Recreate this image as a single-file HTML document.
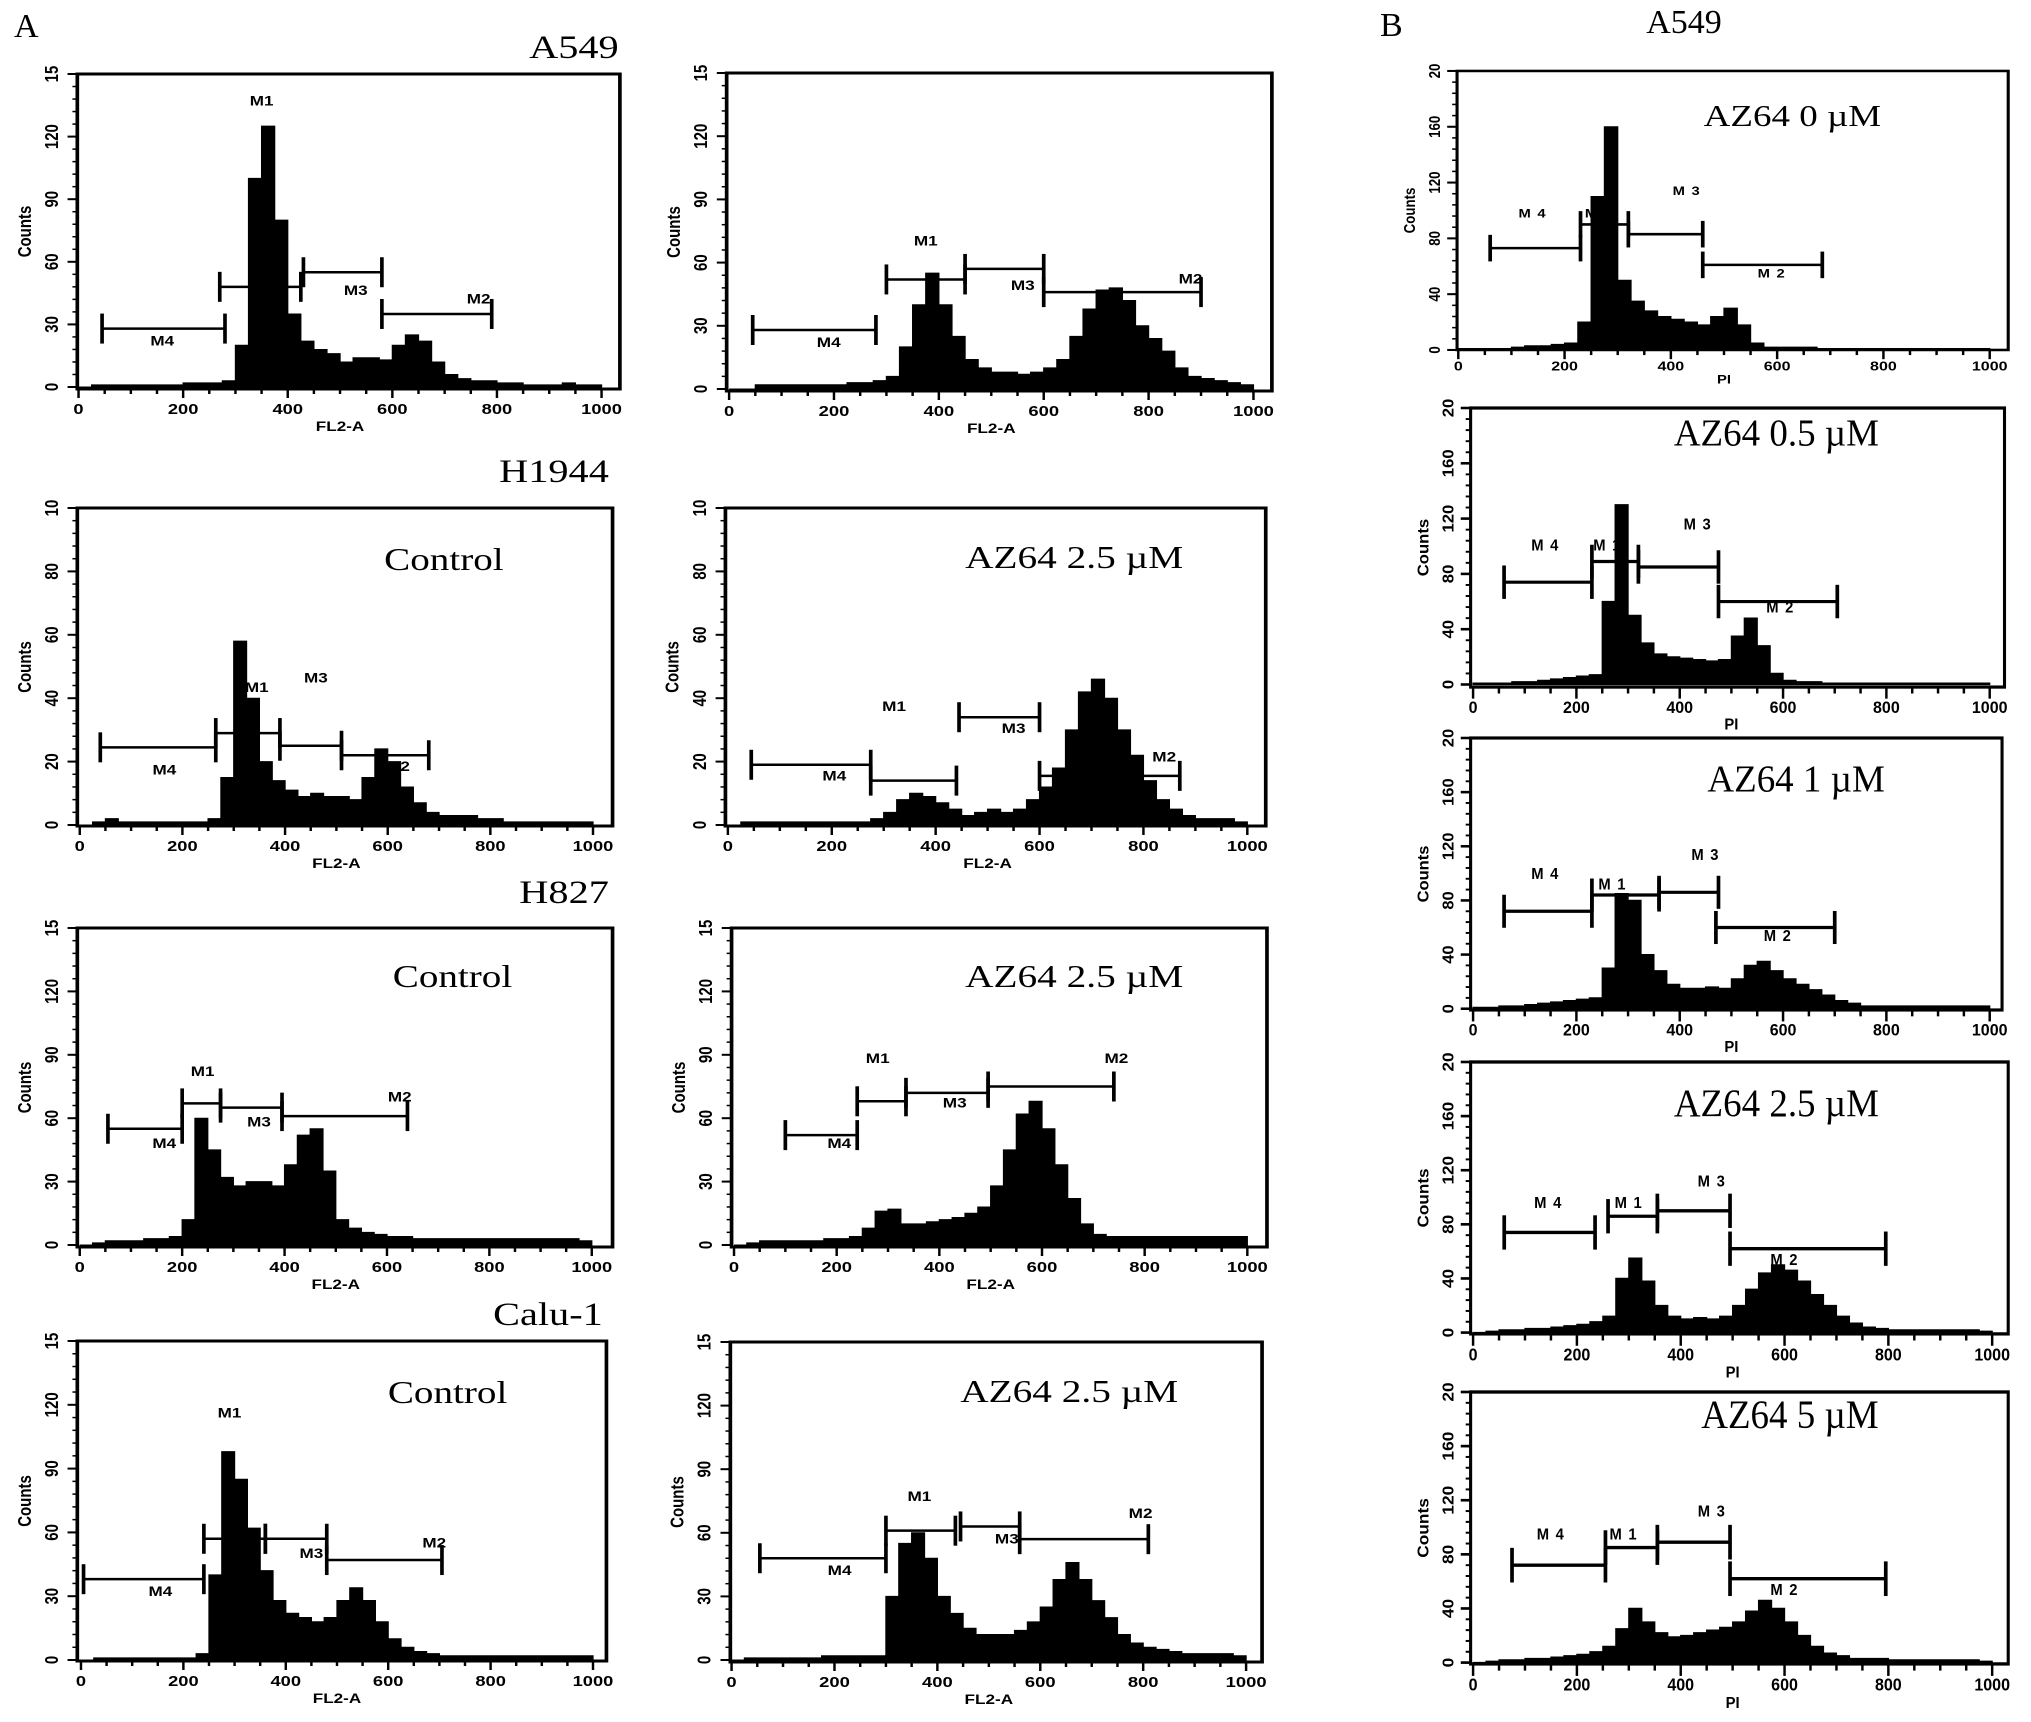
<!DOCTYPE html>
<html><head><meta charset="utf-8"><style>
html,body{margin:0;padding:0;background:#fff;}
svg{display:block;}
</style></head><body>
<svg id="fig" xmlns="http://www.w3.org/2000/svg" width="2031" height="1722" viewBox="0 0 2031 1722">
<rect x="0" y="0" width="2031" height="1722" fill="#fff"/>
<text x="14" y="37" font-family="Liberation Serif, serif" font-size="34">A</text>
<text x="1380" y="36" font-family="Liberation Serif, serif" font-size="34">B</text>
<text x="1684" y="33" text-anchor="middle" font-family="Liberation Serif, serif" font-size="34">A549</text>
</svg>
<script>
// bin width 25 on 0..1000 scale, 40 bins each
const binWidth = 25;
const a549CtrlCounts = [0,1,1,1,1,1,1,1,2,2,2,3,20,100,125,80,35,22,18,16,12,14,14,13,20,25,22,12,6,4,3,3,2,2,1,1,1,2,1,1];
const a549AzCounts = [0,0,2,2,2,2,2,2,2,3,3,4,6,20,40,55,40,25,14,10,8,8,7,8,10,14,25,38,47,48,42,30,24,18,10,6,5,4,3,2];
const h1944CtrlCounts = [0,1,2,1,1,1,1,1,1,1,2,15,58,40,20,14,11,9,10,9,9,8,15,24,20,12,7,4,3,3,3,2,2,1,1,1,1,1,1,1];
const h1944AzCounts = [0,1,1,1,1,1,1,1,1,1,1,2,4,8,10,9,7,5,3,4,5,4,5,8,12,18,30,42,46,40,30,22,14,8,5,3,2,2,2,1];
const h827CtrlCounts = [0,1,2,2,2,3,3,4,12,60,45,32,28,30,30,28,38,52,55,35,12,8,6,5,4,4,3,3,3,3,3,3,3,3,3,3,3,3,3,2];
const h827AzCounts = [0,1,2,2,2,2,2,3,3,4,8,16,17,10,10,11,12,13,15,18,28,45,62,68,55,38,22,10,5,4,4,4,4,4,4,4,4,4,4,4];
const calu1CtrlCounts = [0,1,1,1,1,1,1,1,1,3,40,98,85,62,42,28,22,20,18,20,28,34,28,18,10,6,4,3,2,2,2,2,2,2,2,2,2,2,2,2];
const calu1AzCounts = [0,1,1,1,1,1,1,2,2,2,2,2,30,55,60,48,30,22,15,12,12,12,14,18,25,38,46,38,28,20,12,8,6,5,4,3,3,3,3,2];
const b0Counts = [1,1,1,1,2,3,3,4,5,20,110,160,50,35,28,24,22,20,18,24,30,18,5,2,2,2,2,1,1,1,1,1,1,1,1,1,1,1,1,1];
const b05Counts = [1,1,1,2,2,3,4,5,6,7,60,130,50,30,22,20,19,18,17,18,35,48,28,8,3,2,2,1,1,1,1,1,1,1,1,1,1,1,1,1];
const b1Counts = [1,1,2,2,3,4,5,6,7,8,30,85,80,40,28,18,15,15,16,15,22,32,35,28,22,18,14,10,6,4,2,2,2,2,2,2,2,2,2,2];
const b25Counts = [0,1,2,2,3,3,4,5,6,8,12,40,55,38,20,12,10,11,10,12,20,32,44,50,46,38,28,20,12,7,4,3,2,2,2,2,2,2,2,1];
const b5Counts = [0,1,2,2,3,3,4,5,6,8,12,25,40,30,22,19,20,22,24,26,30,38,46,40,30,20,12,7,5,3,3,3,2,2,2,2,2,2,2,1];

const xTickValues = [0,200,400,600,800,1000];
const xTickLabels = ['0','200','400','600','800','1000'];
const yTicks150 = [0,30,60,90,120,150];
const yLabels150 = ['0','30','60','90','120','15'];
const yTicks100 = [0,20,40,60,80,100];
const yLabels100 = ['0','20','40','60','80','10'];
const yTicks200 = [0,40,80,120,160,200];
const yLabels200 = ['0','40','80','120','160','20'];

// gates: [name, start, end, level, labelX, labelY]
const a549CtrlGates = [['M4',45,280,28,160,20],['M1',270,425,48,350,135],['M3',430,580,55,530,44],['M2',580,790,35,765,40]];
const a549AzGates = [['M4',45,280,28,190,20],['M1',300,450,52,375,68],['M3',450,600,57,560,47],['M2',600,900,46,880,50]];
const h1944CtrlGates = [['M4',40,265,24.5,165,16],['M1',265,390,29,345,42],['M3',390,510,25,460,45],['M2',510,680,22,620,17]];
const h1944AzGates = [['M4',45,275,19,205,14],['M1',275,440,14,320,36],['M3',445,600,34,550,29],['M2',600,870,15.5,840,20]];
const h827CtrlGates = [['M4',55,200,55,165,46],['M1',200,275,67,240,80],['M3',275,395,65,350,56],['M2',395,640,61,625,68]];
const h827AzGates = [['M4',100,240,52,205,46],['M1',240,335,68,280,86],['M3',335,495,72,430,65],['M2',495,740,75,745,86]];
const calu1CtrlGates = [['M4',5,240,38,155,30],['M1',240,360,57,290,114],['M3',360,480,57,450,48],['M2',480,705,47,690,53]];
const calu1AzGates = [['M4',55,300,48,210,40],['M1',300,435,61,365,75],['M3',445,560,63,535,55],['M2',560,810,57,795,67]];
const b0Gates = [['M 4',60,230,73,140,95],['M 1',230,320,90,265,95],['M 3',320,460,83,430,111],['M 2',460,685,61,590,52]];
const b05Gates = [['M 4',60,230,74,140,97],['M 1',230,320,89,260,97],['M 3',320,475,85,435,112],['M 2',475,705,60,595,52]];
const b1Gates = [['M 4',60,230,72,140,96],['M 1',230,360,84,270,88],['M 3',360,475,86,450,110],['M 2',470,700,60,590,50]];
const b25Gates = [['M 4',60,235,74,145,92],['M 1',260,355,86,300,92],['M 3',355,495,90,460,108],['M 2',495,795,62,600,50]];
const b5Gates = [['M 4',75,255,72,150,91],['M 1',255,355,85,290,91],['M 3',355,495,89,460,108],['M 2',495,795,62,600,50]];

const NS='http://www.w3.org/2000/svg';
const svg=document.getElementById('fig');
function mk(tag, attrs, parent){const e=document.createElementNS(NS,tag);for(const k in attrs)e.setAttribute(k,attrs[k]);(parent||svg).appendChild(e);return e;}

const TL='matrix(1.222,0,0,1,4,0)', TR='matrix(1.228,0,0,1,-144,0)';
const panels=[
 {key:'a549-control',counts:a549CtrlCounts,gates:a549CtrlGates,frame:[60,74,504,389],x0:61,x1:489,y0:387,yt:74,ymax:150,yt_v:yTicks150,yt_l:yLabels150,xl:'FL2-A',type:'A',title:'A549',tx:503,ty:58,tf:TL},
 {key:'a549-az64',counts:a549AzCounts,gates:a549AzGates,frame:[709,73,1153,391],x0:711,x1:1138,y0:389,yt:73,ymax:150,yt_v:yTicks150,yt_l:yLabels150,xl:'FL2-A',type:'A',tf:TR},
 {key:'h1944-control',counts:h1944CtrlCounts,gates:h1944CtrlGates,frame:[60,508,498,826],x0:62,x1:482,y0:825,yt:508,ymax:100,yt_v:yTicks100,yt_l:yLabels100,xl:'FL2-A',type:'A',title:'H1944',tx:495,ty:482,ann:'Control',ax:360,ay:570,tf:TL},
 {key:'h1944-az64',counts:h1944AzCounts,gates:h1944AzGates,frame:[708,508,1148,826],x0:710,x1:1133,y0:825,yt:508,ymax:100,yt_v:yTicks100,yt_l:yLabels100,xl:'FL2-A',type:'A',ann:'AZ64 2.5 µM',ax:992,ay:568,tf:TR},
 {key:'h827-control',counts:h827CtrlCounts,gates:h827CtrlGates,frame:[60,928,498,1247],x0:62,x1:481,y0:1245,yt:928,ymax:150,yt_v:yTicks150,yt_l:yLabels150,xl:'FL2-A',type:'A',title:'H827',tx:495,ty:903,ann:'Control',ax:367,ay:987,tf:TL},
 {key:'h827-az64',counts:h827AzCounts,gates:h827AzGates,frame:[713,928,1149,1247],x0:715,x1:1133,y0:1245,yt:928,ymax:150,yt_v:yTicks150,yt_l:yLabels150,xl:'FL2-A',type:'A',ann:'AZ64 2.5 µM',ax:992,ay:987,tf:TR},
 {key:'calu1-control',counts:calu1CtrlCounts,gates:calu1CtrlGates,frame:[60,1341,493,1661],x0:63,x1:482,y0:1660,yt:1341,ymax:150,yt_v:yTicks150,yt_l:yLabels150,xl:'FL2-A',type:'A',title:'Calu-1',tx:490,ty:1325,ann:'Control',ax:363,ay:1403,tf:TL},
 {key:'calu1-az64',counts:calu1AzCounts,gates:calu1AzGates,frame:[712,1342,1145,1662],x0:713,x1:1132,y0:1660,yt:1342,ymax:150,yt_v:yTicks150,yt_l:yLabels150,xl:'FL2-A',type:'A',ann:'AZ64 2.5 µM',ax:988,ay:1402,tf:TR},
 {key:'b-az64-0',counts:b0Counts,gates:b0Gates,frame:[1438,71,1885,344],x0:1439,x1:1870,y0:344,yt:71,ymax:200,yt_v:yTicks200,yt_l:yLabels200,xl:'PI',type:'B',ann:'AZ64 0 µM',ax:1710,ay:125,tf:'matrix(1.233,0,0,1.022,-316,-1.6)'},
 {key:'b-az64-0.5',counts:b05Counts,gates:b05Gates,frame:[1449,414,1882,631],x0:1451,x1:1870,y0:629,yt:414,ymax:200,yt_v:yTicks200,yt_l:yLabels200,xl:'PI',type:'B',ann:'AZ64 0.5 µM',ax:1697,ay:443,tf:'matrix(1.233,0,0,1.286,-316,-124.4)'},
 {key:'b-az64-1',counts:b1Counts,gates:b1Gates,frame:[1449,676,1880,890],x0:1451,x1:1870,y0:889,yt:676,ymax:200,yt_v:yTicks200,yt_l:yLabels200,xl:'PI',type:'B',ann:'AZ64  1 µM',ax:1713,ay:718,tf:'matrix(1.233,0,0,1.271,-316,-121.2)'},
 {key:'b-az64-2.5',counts:b25Counts,gates:b25Gates,frame:[1449,1059,1885,1265],x0:1451,x1:1872,y0:1264,yt:1059,ymax:200,yt_v:yTicks200,yt_l:yLabels200,xl:'PI',type:'B',ann:'AZ64 2.5 µM',ax:1697,ay:1100,tf:'matrix(1.233,0,0,1.32,-316,-335.9)'},
 {key:'b-az64-5',counts:b5Counts,gates:b5Gates,frame:[1449,1321,1885,1525],x0:1451,x1:1872,y0:1524,yt:1321,ymax:200,yt_v:yTicks200,yt_l:yLabels200,xl:'PI',type:'B',ann:'AZ64 5 µM',ax:1708,ay:1348,tf:'matrix(1.233,0,0,1.333,-316,-368.9)'}
];

panels.forEach(p=>{
  const g=mk('g',{transform:p.tf});
  
  
  const xs=v=>p.x0+v/1000*(p.x1-p.x0);
  const ys=c=>p.y0-Math.min(c,p.ymax)/p.ymax*(p.y0-p.yt);
  const [l,t,r,b]=p.frame;
  let d='M'+xs(0)+' '+ys(0);
  p.counts.forEach((c,i)=>{d+=' L'+xs(i*binWidth)+' '+ys(c)+' L'+xs((i+1)*binWidth)+' '+ys(c);});
  d+=' L'+xs(p.counts.length*binWidth)+' '+ys(0)+' Z';
  const h=mk('path',{d:d,fill:'#000',stroke:'#000','stroke-width':1},g);
  
  
  const fr=mk('rect',{x:l,y:t,width:r-l,height:b-t,fill:'none',stroke:'#000','stroke-width':p.type==='A'?3:2.5},g);
  
  
  const fsT=p.type==='A'?15:13;
  for(let k=0;k<=25;k++){const v=p.ymax*k/25;mk('line',{x1:l-4,x2:l,y1:ys(v),y2:ys(v),stroke:'#000','stroke-width':1.5},g);}
  p.yt_v.forEach((v,i)=>{
    mk('line',{x1:l-8,x2:l,y1:ys(v),y2:ys(v),stroke:'#000','stroke-width':2},g);
    const tx=l-(p.type==='A'?16:14);
    const tl=mk('text',{x:tx,y:ys(v),transform:'rotate(-90 '+tx+' '+ys(v)+')','text-anchor':'middle','font-family':'Liberation Sans, sans-serif','font-size':fsT,'font-weight':'bold'},g);
    tl.textContent=p.yt_l[i];
    
    
  });
  const cx=l-(p.type==='A'?38:34), cy=(t+b)/2;
  const cl=mk('text',{x:cx,y:cy,transform:'rotate(-90 '+cx+' '+cy+')','text-anchor':'middle','font-family':'Liberation Sans, sans-serif','font-size':p.type==='A'?15:13,'font-weight':'bold'},g);
  cl.textContent='Counts';
  
  
  for(let v=0;v<=1000;v+=50){mk('line',{x1:xs(v),x2:xs(v),y1:b,y2:b+(v%200===0?9:5),stroke:'#000','stroke-width':2},g);}
  xTickValues.forEach((v,i)=>{
    const xl=mk('text',{x:xs(v),y:b+(p.type==='A'?25:20),'text-anchor':'middle','font-family':'Liberation Sans, sans-serif','font-size':p.type==='A'?15:13,'font-weight':'bold'},g);
    xl.textContent=xTickLabels[i];
    
    
  });
  const xt=mk('text',{x:(xs(0)+xs(1000))/2,y:b+(p.type==='A'?42:33),'text-anchor':'middle','font-family':'Liberation Sans, sans-serif','font-size':p.type==='A'?14:12,'font-weight':'bold'},g);
  xt.textContent=p.xl;
  
  
  const cap=p.type==='A'?15:13;
  p.gates.forEach(gt=>{
    const gg=mk('g',{},g);
    
    
    const y=ys(gt[3]);
    mk('line',{x1:xs(gt[1]),x2:xs(gt[2]),y1:y,y2:y,stroke:'#000','stroke-width':2.5},gg);
    mk('line',{x1:xs(gt[1]),x2:xs(gt[1]),y1:y-cap,y2:y+cap,stroke:'#000','stroke-width':3},gg);
    mk('line',{x1:xs(gt[2]),x2:xs(gt[2]),y1:y-cap,y2:y+cap,stroke:'#000','stroke-width':3},gg);
    const lt=mk('text',{x:xs(gt[4]),y:ys(gt[5]),'text-anchor':'middle','font-family':'Liberation Sans, sans-serif','font-size':p.type==='A'?14:12,'font-weight':'bold','letter-spacing':p.type==='A'?0:1},gg);
    lt.textContent=gt[0];
    
    
  });
  if(p.title){
    const tt=mk('text',{x:p.tx,y:p.ty,'text-anchor':'end','font-family':'Liberation Serif, serif','font-size':33},g);
    tt.textContent=p.title;
    
    
  }
  if(p.ann){
    const at=mk('text',{x:p.ax,y:p.ay,'text-anchor':'middle','font-family':'Liberation Serif, serif','font-size':p.type==='A'?32:30,'xml:space':'preserve'},g);
    at.textContent=p.ann;
    
    
  }
});
</script>
</body></html>
